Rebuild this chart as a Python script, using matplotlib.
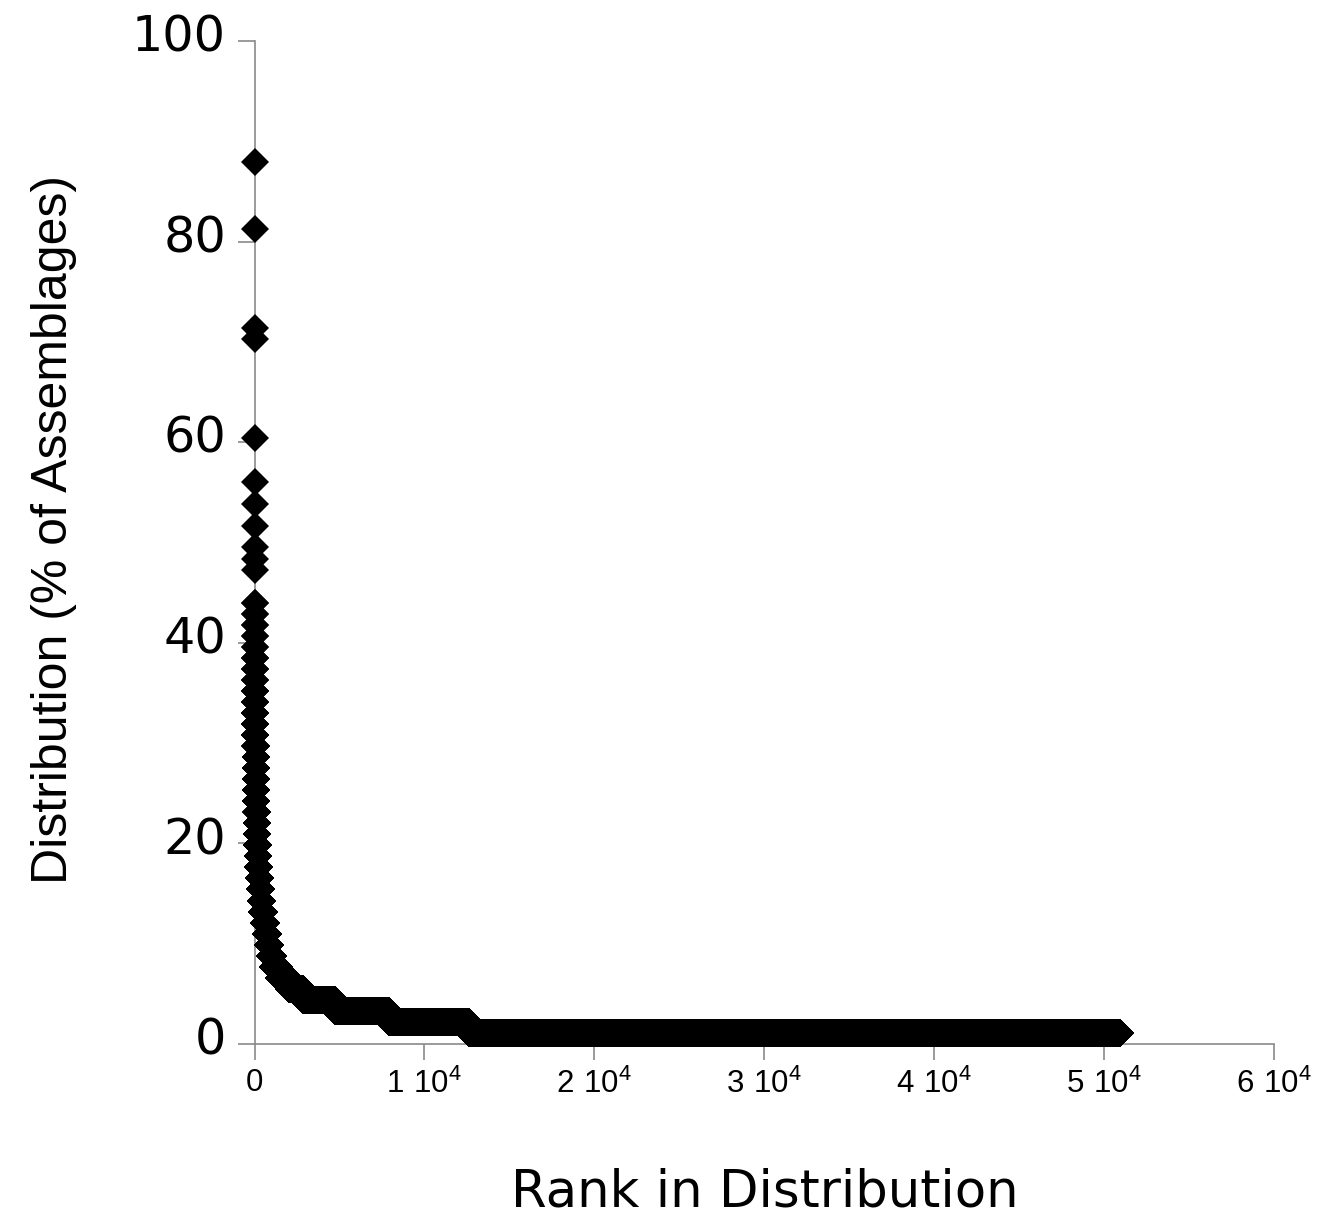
import numpy as np
import matplotlib
matplotlib.use("Agg")
import matplotlib.pyplot as plt
from matplotlib.transforms import ScaledTranslation

# Percentage of assemblages at each distinct level, from highest to lowest
level_values = [87.9, 81.3, 71.4, 70.3, 60.4, 56.0, 53.8, 51.6, 49.5, 48.4, 47.3,
                44.0, 42.9, 41.8, 40.7, 39.6, 38.5, 37.4, 36.3, 35.2, 34.1,
                33.0, 31.9, 30.8, 29.7, 28.6, 27.5, 26.4, 25.3, 24.2, 23.1,
                22.0, 20.9, 19.8, 18.7, 17.6, 16.5, 15.4, 14.3, 13.2, 12.1,
                11.0, 9.9, 8.8, 7.7, 6.6, 5.5, 4.4, 3.3, 2.2, 1.1]
# Last rank that holds each level
level_last_rank = [1, 2, 3, 4, 5, 6, 7, 8, 9, 10, 11,
                   13, 15, 17, 19, 21, 24, 27, 30, 34, 38,
                   43, 48, 54, 61, 69, 78, 88, 100, 113, 128,
                   145, 165, 190, 220, 260, 310, 370, 450, 540, 650,
                   780, 930, 1100, 1420, 2050, 2870, 4740, 7900, 12630, 50950]

x_ticks = [0, 10000, 20000, 30000, 40000, 50000, 60000]
x_tick_labels = ["0", r"$\mathregular{1\ 10^{4}}$", r"$\mathregular{2\ 10^{4}}$",
                 r"$\mathregular{3\ 10^{4}}$", r"$\mathregular{4\ 10^{4}}$",
                 r"$\mathregular{5\ 10^{4}}$", r"$\mathregular{6\ 10^{4}}$"]
y_ticks = [0, 20, 40, 60, 80, 100]

counts = np.diff(np.concatenate([[0], level_last_rank]))
values = np.repeat(level_values, counts)
ranks = np.arange(1, len(values) + 1)

fig = plt.figure(figsize=(13.34, 12.2), dpi=100)
ax = fig.add_axes([0.1908, 0.1443, 0.7643, 0.8221])

ax.plot(ranks, values, linestyle="none", marker="D", markersize=14.0,
        markerfacecolor="black", markeredgewidth=0, color="black",
        clip_on=False, zorder=3)

ax.set_xlim(0, 60000)
ax.set_ylim(0, 100)

spine_color = "#8a8a8a"
for side in ("top", "right"):
    ax.spines[side].set_visible(False)
for side in ("left", "bottom"):
    ax.spines[side].set_color(spine_color)
    ax.spines[side].set_linewidth(1.2)

ax.set_xticks(x_ticks)
ax.set_xticklabels(x_tick_labels, fontfamily="Liberation Sans", fontsize=22.5)
ax.set_yticks(y_ticks)
ax.set_yticklabels([str(v) for v in y_ticks], fontfamily="DejaVu Sans", fontsize=35.5)
ax.tick_params(axis="both", direction="out", color=spine_color, width=1.2,
               labelcolor="black")
ax.tick_params(axis="y", length=12, pad=8.5)
ax.tick_params(axis="x", length=11.5, pad=6)

shift = ScaledTranslation(0, 6 / 72, fig.dpi_scale_trans)
for lab in ax.get_yticklabels():
    lab.set_transform(lab.get_transform() + shift)

ax.set_xlabel("Rank in Distribution", fontfamily="DejaVu Sans", fontsize=37)
ax.xaxis.label.set_va("baseline")
ax.xaxis.set_label_coords(0.5, -0.1625)

fig.text(0.05, 0.5656, "Distribution (% of Assemblages)", rotation=90,
         rotation_mode="anchor", ha="center", va="baseline",
         fontfamily="Liberation Sans", fontsize=36)

fig.savefig("out.png", dpi=100, facecolor="white")
